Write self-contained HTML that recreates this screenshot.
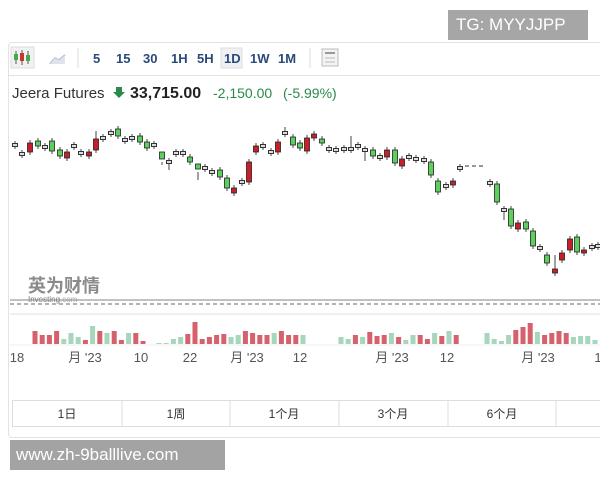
<!DOCTYPE html>
<html><head><meta charset="utf-8"><style>
body{margin:0;width:600px;height:480px;background:#fff;overflow:hidden;font-family:"Liberation Sans","Noto Sans CJK SC",sans-serif;position:relative}
.abs{position:absolute}
</style></head><body>
<div class="abs" style="left:8px;top:42px;width:600px;height:394px;border:1px solid #e3e3e3;border-radius:4px"></div>
<div class="abs" style="left:8px;top:75px;width:592px;height:1px;background:#e3e3e3"></div>
<div class="abs" style="left:448px;top:10px;width:140px;height:30px;background:#a6a6a6;color:#fff;font-size:17px;line-height:30px;padding-left:8px;box-sizing:border-box">TG: MYYJJPP</div>
<svg class="abs" style="left:0;top:0" width="600" height="480" id="s">
<!-- toolbar -->
<rect x="11" y="47" width="23" height="21" fill="#f1f1f1" stroke="#ddd"/>
<g stroke="#555" stroke-width="1"><line x1="16" y1="51" x2="16" y2="64"/><line x1="22" y1="50" x2="22" y2="65"/><line x1="28" y1="51" x2="28" y2="64"/></g>
<rect x="14" y="54" width="4" height="6" fill="#4a4"/><rect x="20" y="53" width="4" height="8" fill="#c33"/><rect x="26" y="55" width="4" height="6" fill="#4a4"/>
<polyline points="50,64 55,58 59,60 65,55" fill="none" stroke="#aac" stroke-width="1.5"/><polygon points="50,64 55,58 59,60 65,55 65,64" fill="#dde4f0"/>
<line x1="78" y1="48" x2="78" y2="68" stroke="#ddd"/>
<g font-size="13" font-weight="bold" fill="#2a4a7a">
<text x="93" y="63">5</text><text x="116" y="63">15</text><text x="143" y="63">30</text><text x="171" y="63">1H</text><text x="197" y="63">5H</text>
<rect x="221" y="48" width="21" height="20" fill="#eef0f3" stroke="#ddd"/><text x="224" y="63">1D</text>
<text x="250" y="63">1W</text><text x="278" y="63">1M</text></g>
<line x1="310" y1="48" x2="310" y2="68" stroke="#ddd"/>
<rect x="322" y="49" width="16" height="17" fill="#f3f3f3" stroke="#bbb"/><line x1="325" y1="53" x2="335" y2="53" stroke="#999" stroke-width="2"/><line x1="325" y1="58" x2="335" y2="58" stroke="#bbb"/><line x1="325" y1="62" x2="335" y2="62" stroke="#bbb"/>
<!-- header -->
<text x="12" y="98" font-size="15" fill="#333">Jeera Futures</text>
<polygon points="116,87 122,87 122,92 125,92 119,98 113,92 116,92" fill="#2a8a4a"/>
<text x="130" y="98" font-size="16" font-weight="bold" fill="#222">33,715.00</text>
<text x="213" y="98" font-size="14" fill="#2a8a4a">-2,150.00</text>
<text x="283" y="98" font-size="14" fill="#2a8a4a">(-5.99%)</text>
<!-- logo -->
<text x="28" y="292" font-size="18" font-weight="bold" fill="#8a8a8a">英为财情</text>
<text x="28" y="302" font-size="8" fill="#777">Investing<tspan fill="#aaa">.com</tspan></text>
<line x1="10" y1="300" x2="600" y2="300" stroke="#7a8a8a" stroke-width="1"/>
<line x1="10" y1="304" x2="600" y2="304" stroke="#666" stroke-width="1" stroke-dasharray="4,3"/>
<line x1="10" y1="314" x2="600" y2="314" stroke="#e2e2e2"/>
<line x1="10" y1="345" x2="600" y2="345" stroke="#eee"/>
<g id="c"></g><g id="v"></g>
<!-- x labels -->
<g font-size="13" fill="#555" text-anchor="middle">
<text x="17" y="362">18</text><text x="85" y="362">月 '23</text><text x="141" y="362">10</text><text x="190" y="362">22</text><text x="247" y="362">月 '23</text><text x="300" y="362">12</text><text x="392" y="362">月 '23</text><text x="447" y="362">12</text><text x="538" y="362">月 '23</text><text x="598" y="362">1</text></g>
<!-- tabs -->
<rect x="12.5" y="400.5" width="590" height="26" fill="#fff" stroke="#ddd"/>
<g stroke="#ddd"><line x1="122" y1="400" x2="122" y2="427"/><line x1="230" y1="400" x2="230" y2="427"/><line x1="339" y1="400" x2="339" y2="427"/><line x1="448" y1="400" x2="448" y2="427"/><line x1="556" y1="400" x2="556" y2="427"/></g>
<g font-size="12" fill="#333" text-anchor="middle"><text x="67" y="418">1日</text><text x="176" y="418">1周</text><text x="284" y="418">1个月</text><text x="393" y="418">3个月</text><text x="502" y="418">6个月</text></g>
</svg>
<div class="abs" style="left:10px;top:440px;width:215px;height:30px;background:#a3a3a3;color:#fff;font-size:17px;line-height:30px;padding-left:6px;box-sizing:border-box">www.zh-9balllive.com</div>
<script>
var C=[[15,145],[22,154],[30,143,152,'r'],[38,141,146,'g'],[45,147],[52,141,151,'g'],[60,150,156,'g'],[67,152,158,'r'],[74,146],[81,153],[89,152,156,'r'],[96,139,150,'r',131],[103,138],[111,133],[118,129,136,'g'],[125,140],[132,138],[140,136,142,'g'],[147,142,148,'g'],[154,145],[162,152,159,'g',165],[169,162,170],[176,153],[183,153],[190,157,162,'g'],[198,164,169,'g',180],[205,168],[212,172],[220,170,177,'g'],[227,178,188,'g'],[234,188,193,'r'],[242,182],[249,162,182,'r'],[256,146,152,'r'],[263,146],[271,152],[278,142,152,'r'],[285,133,0,0,127],[293,137,145,'g'],[300,143,148,'g'],[307,138,151,'r'],[314,134,138,'r'],[322,139,143,'g'],[329,149],[336,150],[344,149],[351,149,0,0,136],[358,146],[365,150,161],[373,150,156,'g'],[380,157],[387,150,157,'r'],[395,150,163,'g'],[402,159,166,'r'],[409,157],[416,159],[424,160],[431,162,175,'g'],[438,181,192,'g'],[446,186],[453,181,185,'r'],[460,168],[490,183],[497,184,202,'g'],[504,210,220],[511,209,226,'g'],[518,223,229,'r'],[526,222,229,'g'],[533,231,246,'g'],[540,248],[547,255,263,'g'],[555,269,273,'r',255],[562,253,260,'r'],[570,239,250,'r'],[577,237,252,'g'],[584,250,253,'r'],[592,247],[598,246]];
var s='';
C.forEach(function(c){var x=c[0],t=c[1],b=c[2],col=c[3];
 if(!col){var wt=t-4,wb=t+4;if(c[4])wt=Math.min(wt,c[4]);if(b)wb=Math.max(wb,b);
  s+='<line x1="'+x+'" y1="'+wt+'" x2="'+x+'" y2="'+wb+'" stroke="#444"/><rect x="'+(x-2.5)+'" y="'+(t-1.5)+'" width="5" height="3" fill="#ddd" stroke="#333"/>';}
 else{var w=c[4]||t-3;s+='<line x1="'+x+'" y1="'+w+'" x2="'+x+'" y2="'+(b+3)+'" stroke="#444"/><rect x="'+(x-2.5)+'" y="'+t+'" width="5" height="'+(b-t)+'" fill="'+(col=='r'?'#c8202a':'#5cd05c')+'" stroke="#222" stroke-width=".8"/>';}});
s+='<g stroke="#333"><line x1="465" y1="166" x2="469" y2="166"/><line x1="472" y1="166" x2="476" y2="166"/><line x1="479" y1="166" x2="483" y2="166"/></g>';
document.getElementById('c').innerHTML=s;
var v='',seg=[[35,150],[159,310],[341,462],[487,598]],k=0;
var H=[13,9,9,13,5,11,7,4,18,13,11,13,4,11,11,3,1,1,5,7,10,22,5,7,9,10,7,9,13,11,9,9,11,13,9,9,9,7,5,9,7,12,8,9,11,7,4,9,9,5,11,8,13,9,11,5,3,9,14,17,21,12,9,11,13,11,7,8,8,4,8];
var R=[1,1,1,1,0,0,0,1,0,1,0,1,1,0,1,1,0,0,0,0,1,1,1,1,1,1,0,0,1,1,1,1,0,1,1,1,0,0,0,1,0,1,1,1,0,1,0,0,1,1,0,1,0,1,0,0,0,0,1,1,1,0,1,1,1,1,0,0,0,0,1];
seg.forEach(function(g){for(var x=g[0];x<=g[1];x+=7.2){var h=H[k%H.length],r=R[k%R.length];k++;v+='<rect x="'+(x-2.5)+'" y="'+(344-h)+'" width="5" height="'+h+'" fill="'+(r?'#d4616b':'#a6d6bc')+'"/>';}});
document.getElementById('v').innerHTML=v;
</script>
</body></html>
